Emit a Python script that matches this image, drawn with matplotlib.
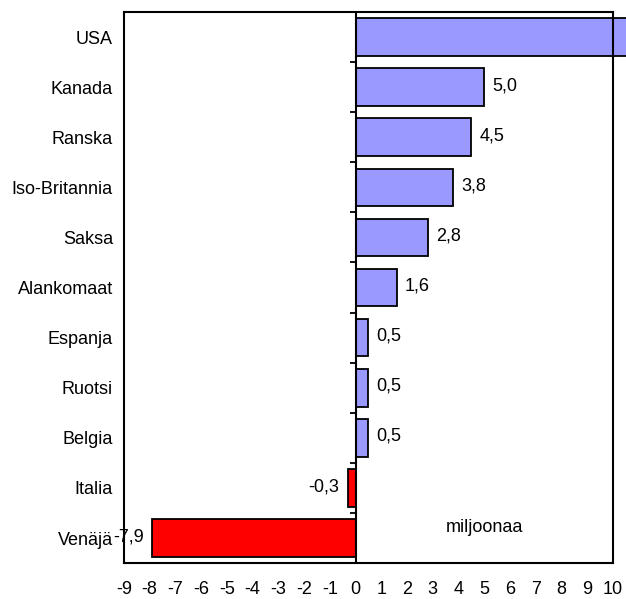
import numpy as np
import matplotlib
matplotlib.use("Agg")
import matplotlib.pyplot as plt

plt.rcParams['font.family'] = ['Liberation Sans', 'DejaVu Sans']

countries = ['USA', 'Kanada', 'Ranska', 'Iso-Britannia', 'Saksa', 'Alankomaat',
             'Espanja', 'Ruotsi', 'Belgia', 'Italia', 'Venäjä']
values = [11.5, 5.0, 4.5, 3.8, 2.8, 1.6, 0.5, 0.5, 0.5, -0.3, -7.9]
show_label = [False, True, True, True, True, True, True, True, True, True, True]
xticks = list(range(-9, 11))

fig = plt.figure(figsize=(6.26, 5.99), dpi=100)
ax = fig.add_axes([0.198, 0.060, 0.781, 0.920])

fs = 13
y = np.arange(len(countries))
colors = ['#9999FF' if v >= 0 else '#FF0000' for v in values]
bars = ax.barh(y, values, height=0.75, color=colors, edgecolor='black', linewidth=1.3, zorder=2)
# the USA bar runs past the frame
bars[0].set_clip_on(False)

for yi, v, show in zip(y, values, show_label):
    if not show:
        continue
    txt = f"{v:.1f}".replace('.', ',')
    if v >= 0:
        ax.annotate(txt, (v, yi), xytext=(6, 1), textcoords='offset points',
                    ha='left', va='center', fontsize=fs)
    else:
        ax.annotate(txt, (v, yi), xytext=(-6, 1), textcoords='offset points',
                    ha='right', va='center', fontsize=fs)

ax.text(5.0, 9.8, 'miljoonaa', ha='center', va='center', fontsize=fs)

ax.set_xlim(-9, 10)
ax.set_ylim(len(countries) - 0.5, -0.5)
ax.set_xticks(xticks)
ax.set_xticklabels([str(t) for t in xticks], fontsize=fs)
ax.tick_params(axis='x', length=0, pad=13)
ax.set_yticks(y)
ax.set_yticklabels(countries, fontsize=fs)
ax.tick_params(axis='y', length=0, pad=8)

for s in ax.spines.values():
    s.set_linewidth(1.5)

# zero line with category separator ticks
ax.axvline(0, color='black', lw=1.5, zorder=3)
sec = ax.secondary_yaxis(9 / 19)
sec.set_yticks(np.arange(len(countries) + 1) - 0.5)
sec.set_yticklabels([])
sec.tick_params(length=4, width=1.3, direction='out')
sec.spines['left'].set_visible(False)

fig.savefig('out.png', dpi=100)
